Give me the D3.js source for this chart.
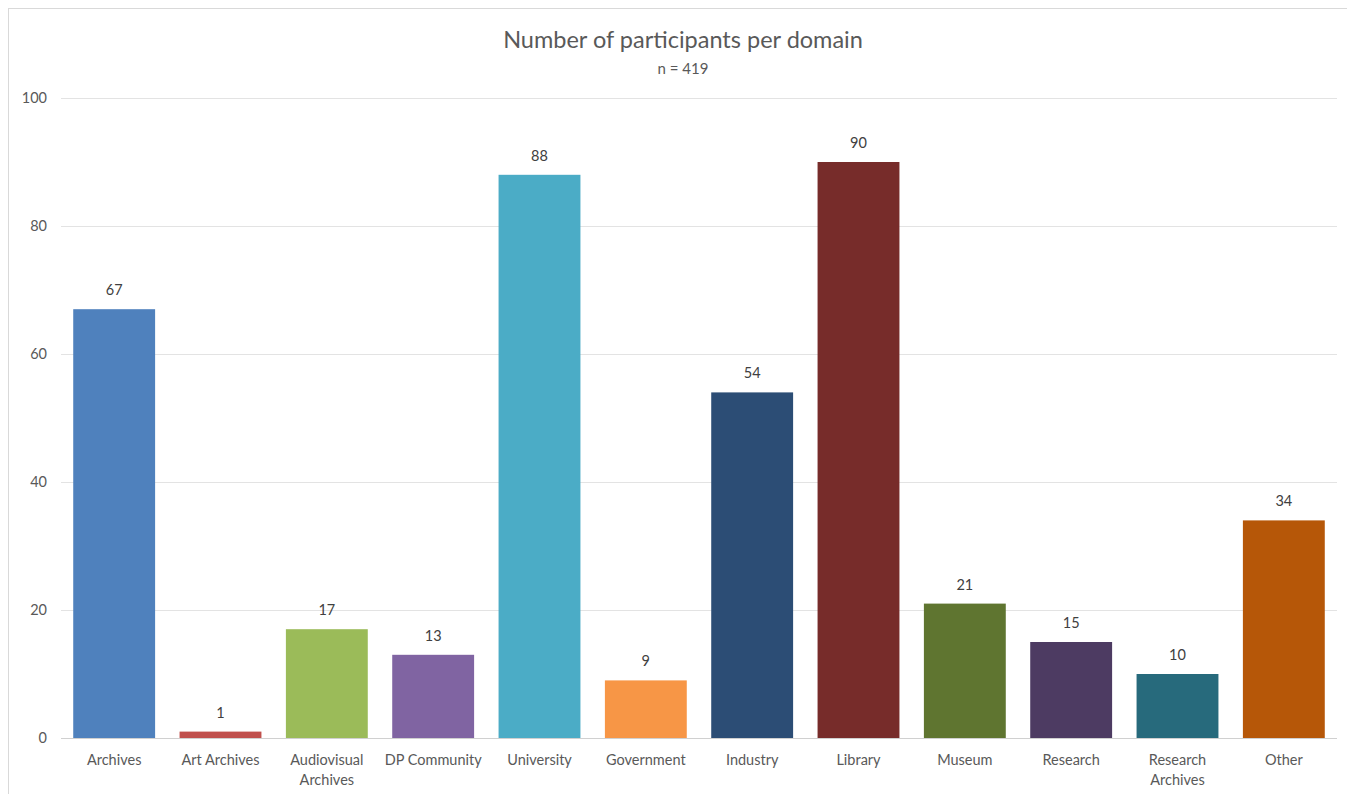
<!DOCTYPE html>
<html>
<head>
<meta charset="utf-8">
<script src="https://cdn.jsdelivr.net/npm/d3@7"></script>
<style>
  html, body { margin: 0; padding: 0; background: #fff; }
  svg { display: block; }
  text { font-family: Lato, "Open Sans", sans-serif; }
</style>
</head>
<body>
<svg id="chart" width="1347" height="794"></svg>
<script>
const categories = ["Archives", "Art Archives", "Audiovisual Archives", "DP Community", "University", "Government", "Industry", "Library", "Museum", "Research", "Research Archives", "Other"];
const values = [67, 1, 17, 13, 88, 9, 54, 90, 21, 15, 10, 34];
const colors = ["#4f81bd", "#c0504d", "#9bbb59", "#8064a2", "#4bacc6", "#f79646", "#2c4d75", "#772c2a", "#5f7530", "#4d3b62", "#276a7c", "#b65708"];
const yTicks = [0, 20, 40, 60, 80, 100];
const title = "Number of participants per domain";
const subtitle = "n = 419";

const svg = d3.select("#chart");
const margin = { left: 61 };
const plotRight = 1337;
const fontFam = "Lato, 'Open Sans', sans-serif";

// chart border
svg.append("rect").attr("x", 8.5).attr("y", 8.5).attr("width", 1360).attr("height", 800)
  .attr("fill", "none").attr("stroke", "#d9d9d9").attr("stroke-width", 1);

const x = d3.scaleBand().domain(categories).range([margin.left, plotRight]).paddingInner(0.23).paddingOuter(0.115);
const y = d3.scaleLinear().domain([0, 100]).range([738, 98]);

// gridlines
svg.append("g").selectAll("line").data(yTicks).join("line")
  .attr("x1", margin.left).attr("x2", plotRight)
  .attr("y1", d => Math.round(y(d)) + 0.5).attr("y2", d => Math.round(y(d)) + 0.5)
  .attr("stroke", d => d === 0 ? "#d0d0d0" : "#e3e3e3").attr("stroke-width", 1);

// y axis labels
const yAxis = d3.axisLeft(y).tickValues(yTicks).tickSize(0).tickPadding(0);
const gy = svg.append("g").attr("transform", `translate(${47},0)`).call(yAxis);
gy.select(".domain").remove();
gy.selectAll("text").attr("fill", "#595959").style("font-size", "14.5px").style("font-family", fontFam);

// bars
svg.append("g").selectAll("rect").data(values).join("rect")
  .attr("x", (d, i) => x(categories[i]))
  .attr("width", x.bandwidth())
  .attr("y", d => y(d))
  .attr("height", d => y(0) - y(d))
  .attr("fill", (d, i) => colors[i]);

// value labels
svg.append("g").selectAll("text").data(values).join("text")
  .attr("x", (d, i) => x(categories[i]) + x.bandwidth() / 2)
  .attr("y", d => y(d) - 14)
  .attr("text-anchor", "middle")
  .attr("fill", "#404040")
  .style("font-size", "14.5px")
  .text(d => d);

// x axis labels (wrapped)
const xAxis = d3.axisBottom(x).tickSize(0).tickPadding(0);
const gx = svg.append("g").attr("transform", `translate(0,${y(0)})`).call(xAxis);
gx.select(".domain").remove();
gx.selectAll("text").each(function(d) {
  const t = d3.select(this);
  t.text(null).attr("y", 0).attr("dy", null)
    .attr("fill", "#595959").style("font-size", "14.5px").style("font-family", fontFam);
  const words = d.split(" ");
  let lines;
  if (d === "Audiovisual Archives" || d === "Research Archives") lines = [words[0], words.slice(1).join(" ")];
  else lines = [d];
  lines.forEach((ln, k) => {
    t.append("tspan").attr("x", 0).attr("y", 27 + k * 20).text(ln);
  });
});

// title
svg.append("text").attr("x", 683).attr("y", 48).attr("text-anchor", "middle")
  .attr("fill", "#595959").style("font-size", "23.5px").text(title);
svg.append("text").attr("x", 683).attr("y", 74).attr("text-anchor", "middle")
  .attr("fill", "#595959").style("font-size", "15px").text(subtitle);
</script>
</body>
</html>
